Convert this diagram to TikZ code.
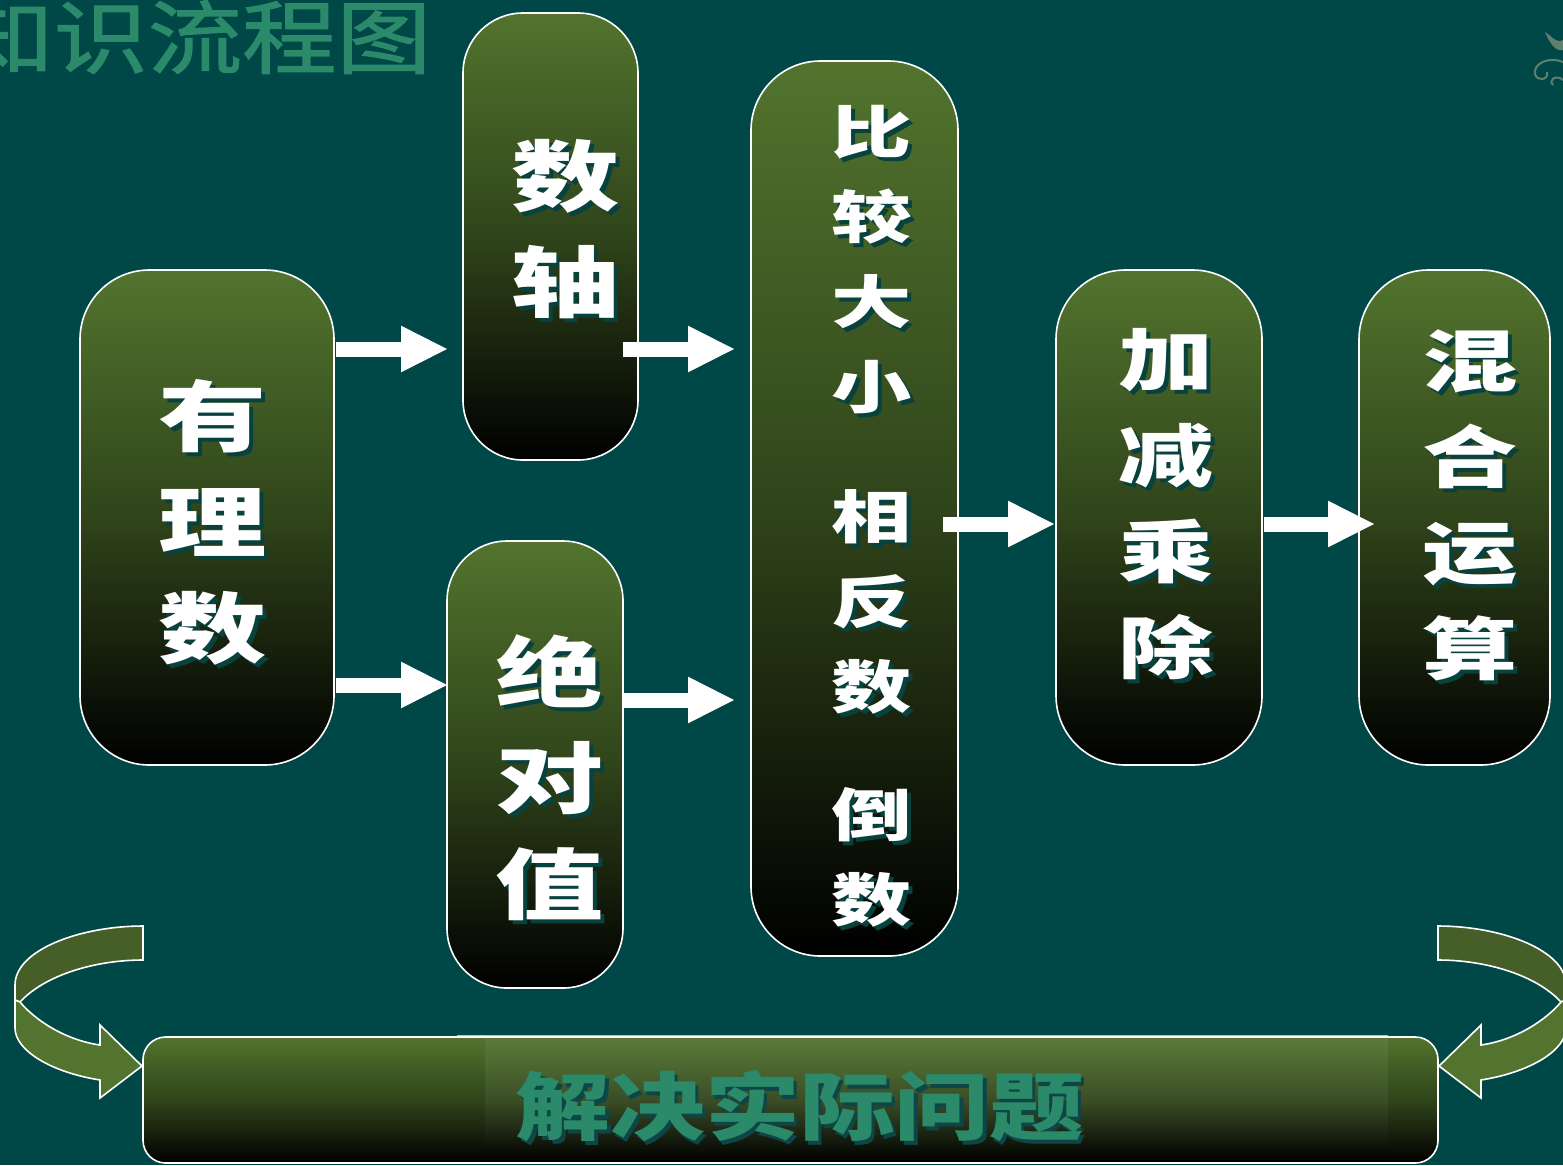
\documentclass[tikz,border=0pt]{standalone}
\usepackage{fontspec}
\usetikzlibrary{arrows.meta,calc}

\newfontfamily\cjkwide{Noto Sans CJK SC}[FakeStretch=1.4]
\newfontfamily\cjkmid{Noto Sans CJK SC}[FakeStretch=1.28]
\newfontfamily\cjktitle{Noto Sans CJK SC}[FakeStretch=1.18,FakeBold=1.5]

\definecolor{bgteal}{RGB}{0,72,72}
\definecolor{boxgreen}{RGB}{82,116,46}
\definecolor{boxmid}{RGB}{48,68,26}
\definecolor{ribdark}{RGB}{70,94,40}
\definecolor{titlegreen}{RGB}{42,138,106}
\definecolor{txtshadow}{RGB}{8,66,62}
\definecolor{wtshadow}{RGB}{14,70,72}
\definecolor{ornament}{RGB}{95,128,108}

% text with a dark teal shadow
\newcommand\shd[1]{\rlap{\kern3pt\raisebox{-3pt}{\color{txtshadow}#1}}#1}
\newcommand\wshd[1]{\rlap{\kern2.5pt\raisebox{-2.5pt}{\color{wtshadow}#1}}#1}

% turning ribbon arrow, left hand version
\newcommand\turnarrow{%
  \filldraw[ribbon, fill=ribdark] (143,926) .. controls (80,926) and (15,950) .. (15,985) -- (15,1000) -- (20,1002) .. controls (45,975) and (95,960) .. (143,960) -- cycle;
  \filldraw[ribbon, fill=boxgreen] (15,1000) -- (15,1028) .. controls (15,1050) and (50,1072) .. (100,1080) -- (100,1098) -- (142,1066) -- (100,1025) -- (100,1045) .. controls (65,1040) and (35,1020) .. (20,1002) -- cycle;
}

\tikzset{
  stbox/.style={draw=white, line width=1.2pt, rounded corners=#1, top color=boxgreen, bottom color=black, middle color=boxmid, inner sep=0pt, outer sep=0pt},
  stbox/.default=52pt,
  coltext/.style 2 args={text=white, align=center, inner sep=0pt, font=\cjkwide\bfseries\fontsize{#1}{#2}\selectfont},
  blkarrow/.style={draw=white, line width=11.25pt, -{Triangle[length=34.5pt,width=35pt,line width=0pt]}},
  ribbon/.style={draw=white, line width=1.2pt}
}

\begin{document}
\begin{tikzpicture}[x=0.75pt,y=0.75pt,yscale=-1,xscale=1]
\useasboundingbox (0,0) rectangle (1563,1165);
\fill[bgteal] (0,0) rectangle (1563,1165);

%Title
\node[text=titlegreen, inner sep=0pt, font=\cjktitle\fontsize{60pt}{60pt}\selectfont] (title) at (195,37) {知识流程图};

%Ornament
\draw[ornament, line width=1.5pt] (1563,62) .. controls (1548,56) and (1533,64) .. (1535,74) .. controls (1537,82) and (1549,80) .. (1547,72);
\draw[ornament, line width=1.5pt] (1563,80) .. controls (1556,74) and (1548,80) .. (1553,85);
\fill[ornament] (1545,32) .. controls (1552,36) and (1556,44) .. (1563,40) -- (1563,50) .. controls (1556,52) and (1550,44) .. cycle;

%Boxes
\node[stbox, minimum width=190.5pt, minimum height=371.25pt] (yl) at (207,517.5) {};
\node[stbox=45pt, minimum width=131.25pt, minimum height=335.25pt] (sz) at (550.5,236.5) {};
\node[stbox=45pt, minimum width=132pt, minimum height=335.25pt] (jd) at (535,764.5) {};
\node[stbox, minimum width=155.25pt, minimum height=671.25pt] (bj) at (854.5,508.5) {};
\node[stbox, minimum width=154.5pt, minimum height=371.25pt] (jj) at (1159,517.5) {};
\node[stbox, minimum width=143.25pt, minimum height=371.25pt] (hh) at (1454.5,517.5) {};
\node[stbox=17pt, minimum width=971.25pt, minimum height=94.5pt] (wt) at (790.5,1100) {};
\path[top color=boxgreen!95!white, bottom color=black, middle color=boxmid!95!white] (485,1039) rectangle (1388,1161);
\draw[gray!50, line width=0.6pt] (457,1035) -- (1388,1035);

%Texts
\node[coltext={58pt}{79.5pt}] (yl-t) at ($(yl)+(6,6.5)$) {\shd{有}\\\shd{理}\\\shd{数}};
\node[coltext={58pt}{79.5pt}] (sz-t) at ($(sz)+(15.5,-5.5)$) {\shd{数}\\\shd{轴}};
\node[coltext={58pt}{79.5pt}] (jd-t) at ($(jd)+(15,15.5)$) {\shd{绝}\\\shd{对}\\\shd{值}};
\node[coltext={43pt}{63.75pt}] (bj-t) at ($(bj)+(17.5,9.5)$) {\shd{比}\\\shd{较}\\\shd{大}\\\shd{小}\\[33.75pt]\shd{相}\\\shd{反}\\\shd{数}\\[32pt]\shd{倒}\\\shd{数}};
\node[coltext={51pt}{72pt}] (jj-t) at ($(jj)+(7,-11.5)$) {\shd{加}\\\shd{减}\\\shd{乘}\\\shd{除}};
\node[coltext={51pt}{72pt}] (hh-t) at ($(hh)+(15.5,-10.5)$) {\shd{混}\\\shd{合}\\\shd{运}\\\shd{算}};
\node[text=titlegreen, inner sep=0pt, font=\cjkmid\bfseries\fontsize{55.5pt}{55.5pt}\selectfont] (wt-t) at ($(wt)+(9.5,8)$) {\wshd{解决实际问题}};

%Arrows
\draw[blkarrow] ($(yl.east)+(2,-168.5)$) -- ++(111,0);
\draw[blkarrow] ($(yl.east)+(2,167.5)$) -- ++(111,0);
\draw[blkarrow] ($(sz.east)+(-15,112.5)$) -- ++(111,0);
\draw[blkarrow] ($(jd.east)+(0,-64.5)$) -- ++(111,0);
\draw[blkarrow] ($(bj.east)+(-15,15.5)$) -- ++(111,0);
\draw[blkarrow] ($(jj.east)+(2,6.5)$) -- ++(110,0);

%Turning arrows
\turnarrow
\begin{scope}[shift={(1581,0)},xscale=-1]
\turnarrow
\end{scope}

\end{tikzpicture}
\end{document}
